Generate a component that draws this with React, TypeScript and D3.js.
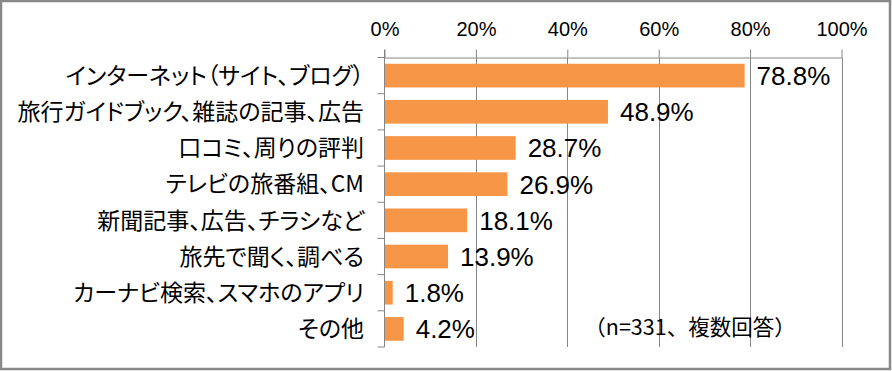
import React, { useEffect, useRef } from "react";
import * as d3 from "d3";

// categories (top to bottom) and share of respondents
const categories = [
  "インターネット（サイト、ブログ）",
  "旅行ガイドブック、雑誌の記事、広告",
  "口コミ、周りの評判",
  "テレビの旅番組、CM",
  "新聞記事、広告、チラシなど",
  "旅先で聞く、調べる",
  "カーナビ検索、スマホのアプリ",
  "その他",
];
const values = [0.788, 0.489, 0.287, 0.269, 0.181, 0.139, 0.018, 0.042];
const tickValues = [0, 0.2, 0.4, 0.6, 0.8, 1.0];
const note = "（n=331、複数回答）";

const W = 892;
const H = 371;

export default function App() {
  const ref = useRef<SVGSVGElement>(null);

  useEffect(() => {
    const margin = { top: 57.5, left: 384.5, right: 50.5, bottom: 24 };
    const svg = d3.select(ref.current);
    svg.selectAll("*").remove();

    // outer frame
    svg
      .append("rect")
      .attr("x", 1)
      .attr("y", 1)
      .attr("width", W - 3)
      .attr("height", H - 3)
      .attr("fill", "#fff")
      .attr("stroke", "#898989")
      .attr("stroke-width", 2.5);

    var x = d3
      .scaleLinear()
      .domain([0, 1])
      .range([margin.left, W - margin.right]);

    var y = d3
      .scaleBand()
      .domain(categories)
      .range([margin.top, H - margin.bottom])
      .paddingInner(0.345)
      .paddingOuter(0.1725);

    // vertical gridlines
    svg
      .append("g")
      .selectAll("line")
      .data(tickValues.slice(1))
      .join("line")
      .attr("x1", (d) => Math.round(x(d)) + 0.5)
      .attr("x2", (d) => Math.round(x(d)) + 0.5)
      .attr("y1", margin.top)
      .attr("y2", H - margin.bottom)
      .attr("stroke", "#868686")
      .attr("stroke-width", 1);

    // top value axis
    var xAxis = svg
      .append("g")
      .attr("transform", `translate(0, ${margin.top})`)
      .call(
        d3
          .axisTop(x)
          .tickValues(tickValues)
          .tickFormat(d3.format(".0%"))
          .tickSize(8)
          .tickSizeOuter(0)
          .tickPadding(14)
      );
    xAxis.select(".domain").attr("stroke", "#868686");
    xAxis.selectAll(".tick line").attr("stroke", "#868686");
    xAxis
      .selectAll(".tick text")
      .attr("fill", "#000")
      .style("font-family", "'Liberation Sans', Arial, sans-serif")
      .style("font-size", "20px");

    // bars
    svg
      .append("g")
      .selectAll("rect")
      .data(values)
      .join("rect")
      .attr("x", x(0))
      .attr("y", (d, i) => y(categories[i]) as number)
      .attr("width", (d) => x(d) - x(0))
      .attr("height", y.bandwidth())
      .attr("fill", "#F79646");

    // left category axis line + boundary ticks
    const step = y.step();
    const g = svg.append("g");
    g.append("line")
      .attr("x1", margin.left)
      .attr("x2", margin.left)
      .attr("y1", margin.top - 8)
      .attr("y2", H - margin.bottom)
      .attr("stroke", "#868686");
    g.selectAll(".ctick")
      .data(d3.range(categories.length + 1))
      .join("line")
      .attr("class", "ctick")
      .attr("x1", margin.left - 7)
      .attr("x2", margin.left)
      .attr("y1", (i) => margin.top + i * step)
      .attr("y2", (i) => margin.top + i * step)
      .attr("stroke", "#868686");

    // category labels
    svg
      .append("g")
      .selectAll("text")
      .data(categories)
      .join("text")
      .attr("x", 364)
      .attr("y", (d) => (y(d) as number) + y.bandwidth() / 2)
      .attr("dy", "0.36em")
      .attr("text-anchor", "end")
      .style("font-family", "'Noto Sans CJK JP', sans-serif")
      .style("font-size", "23px")
      .style("font-feature-settings", "'palt'")
      .attr("fill", "#000")
      .text((d) => d);

    // value labels
    svg
      .append("g")
      .selectAll("text")
      .data(values)
      .join("text")
      .attr("x", (d) => x(d) + 12)
      .attr("y", (d, i) => (y(categories[i]) as number) + y.bandwidth() / 2)
      .attr("dy", "0.36em")
      .style("font-family", "'Liberation Sans', Arial, sans-serif")
      .style("font-size", "26px")
      .attr("fill", "#000")
      .text((d) => d3.format(".1%")(d));

    // note
    svg
      .append("text")
      .attr("x", 690)
      .attr("y", 335)
      .attr("text-anchor", "middle")
      .style("font-family", "'Noto Sans CJK JP', sans-serif")
      .style("font-size", "21.5px")
      .attr("fill", "#000")
      .text(note);
  }, []);

  return (
    <svg
      ref={ref}
      width={W}
      height={H}
      style={{ position: "absolute", left: 0, top: 0, display: "block" }}
    />
  );
}
